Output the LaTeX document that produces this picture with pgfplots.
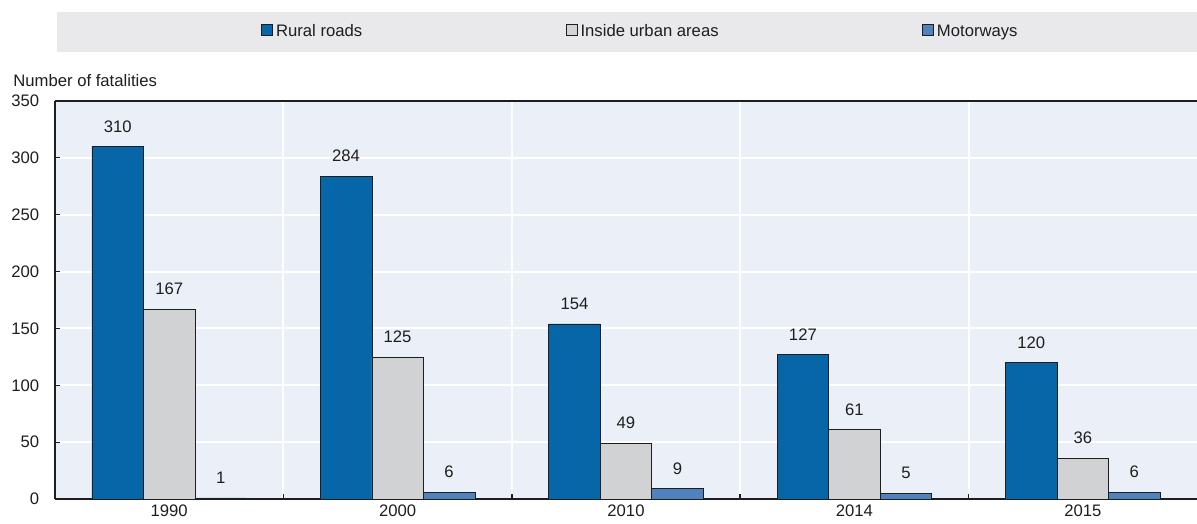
\documentclass[border=0pt]{standalone}
\usepackage{pgfplots}
\pgfplotsset{compat=1.18}
\usepackage{fontspec}
\setmainfont{Liberation Sans}
\definecolor{rural}{RGB}{6,102,168}
\definecolor{urban}{RGB}{209,210,212}
\definecolor{motor}{RGB}{80,130,190}
\definecolor{plotbg}{RGB}{235,240,248}
\definecolor{legbg}{RGB}{233,233,236}
\definecolor{ink}{RGB}{30,30,30}

\begin{document}
\begin{tikzpicture}
\useasboundingbox (-33pt,-14.4pt) rectangle (685.2pt,299.4pt);
% grey band behind the legend
\fill[legbg] (1.2pt,268.2pt) rectangle (685.2pt,292.2pt);
\begin{axis}[
    scale only axis,
    width=685.2pt, height=238.8pt,
    ybar=0pt, bar width=30.9pt,
    xmin=-0.5, xmax=4.5, ymin=0, ymax=350,
    xtick={0,...,4},
    xticklabels={1990,2000,2010,2014,2015},
    minor xtick={0.5,1.5,2.5,3.5},
    ytick={0,50,...,350},
    axis background/.style={fill=plotbg},
    ymajorgrids, xminorgrids,
    major grid style={white, line width=1.2pt},
    minor grid style={white, line width=1.2pt},
    axis x line*=box, axis y line*=left,
    axis line style={ink, line width=0.9pt},
    xtick pos=bottom, ytick pos=left,
    tick align=inside,
    major x tick style={draw=none},
    minor x tick style={ink, line width=0.9pt},
    minor tick length=3pt,
    ytick style={ink, line width=0.6pt},
    major tick length=3pt,
    yticklabel style={xshift=-6pt},
    /pgf/number format/assume math mode=true,
    ticklabel style={text=ink},
    nodes near coords,
    nodes near coords style={yshift=5pt, text=ink},
    legend style={
        at={(0.5,1)}, anchor=center, yshift=41.4pt, xshift=9pt,
        draw=none, fill=none, text=ink,
        legend columns=3,
        /tikz/every even column/.append style={column sep=120pt}
    },
    legend image code/.code={\draw[#1] (0pt,-2pt) rectangle (6.6pt,4.6pt);},
]
\addplot[fill=rural, draw=ink, line width=0.4pt]
    coordinates {(0,310) (1,284) (2,154) (3,127) (4,120)};
\addplot[fill=urban, draw=ink, line width=0.4pt]
    coordinates {(0,167) (1,125) (2,49) (3,61) (4,36)};
\addplot[fill=motor, draw=ink, line width=0.4pt]
    coordinates {(0,1) (1,6) (2,9) (3,5) (4,6)};
\legend{Rural roads, Inside urban areas, Motorways}
\end{axis}
\node[anchor=base west, text=ink] at (-28.5pt,247.2pt) {Number of fatalities};
\end{tikzpicture}
\end{document}
